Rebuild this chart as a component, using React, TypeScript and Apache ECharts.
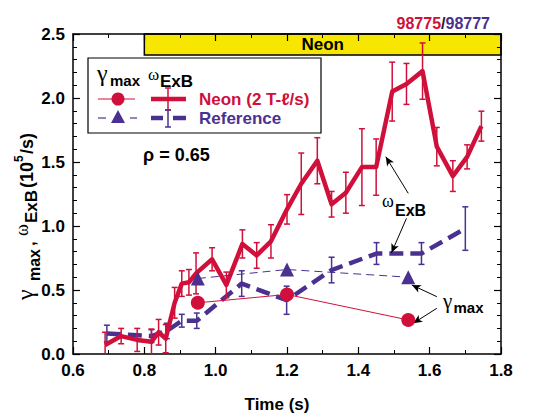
import React, { useEffect, useRef } from "react";
import * as echarts from "echarts";

// ω_ExB, Neon shot (98775)
const redT = [0.69, 0.735, 0.78, 0.82, 0.84, 0.86, 0.885, 0.905, 0.925, 0.945, 0.99, 1.03, 1.075, 1.115, 1.155, 1.2, 1.24, 1.285, 1.325, 1.365, 1.41, 1.45, 1.495, 1.535, 1.58, 1.62, 1.665, 1.705, 1.745];
const redW = [0.07, 0.14, 0.11, 0.095, 0.17, 0.12, 0.40, 0.55, 0.56, 0.63, 0.74, 0.54, 0.86, 0.77, 0.88, 1.13, 1.33, 1.51, 1.17, 1.26, 1.46, 1.46, 2.05, 2.11, 2.21, 1.62, 1.39, 1.54, 1.78];
const redErr = [0.1, 0.06, 0.09, 0.1, 0.1, 0.11, 0.12, 0.1, 0.1, 0.16, 0.09, 0.1, 0.11, 0.1, 0.13, 0.115, 0.24, 0.18, 0.1, 0.16, 0.3, 0.22, 0.23, 0.16, 0.22, 0.15, 0.12, 0.094, 0.117];

// ω_ExB, Reference shot (98777)
const refT = [0.695, 0.82, 0.863, 0.905, 0.947, 1.073, 1.199, 1.325, 1.451, 1.577, 1.70];
const refW = [0.16, 0.14, 0.18, 0.26, 0.26, 0.55, 0.42, 0.656, 0.785, 0.785, 0.98];
const refErr = [0.065, 0.05, 0.06, 0.05, 0.06, 0.1, 0.11, 0.1, 0.085, 0.085, 0.17];

// γ_max
const gammaT = [0.95, 1.2, 1.54];
const gammaNeon = [0.40, 0.465, 0.266];
const gammaRef = [0.59, 0.66, 0.60];

// Neon puff interval
const neonStart = 0.8;
const neonEnd = 1.8;
const neonBottom = 2.336;

// annotation arrows [from, to] in data coordinates
const arrowFrom = [[1.54, 1.255], [1.535, 1.06], [1.62, 0.448], [1.62, 0.357]];
const arrowTo = [[1.477, 1.541], [1.493, 0.791], [1.55, 0.539], [1.554, 0.24]];

const xTicks = { min: 0.6, max: 1.8, interval: 0.2 };
const yTicks = { min: 0, max: 2.5, interval: 0.5 };

const RED = "#d0103a";
const BLUE = "#4a3190";
const YELLOW = "#f7e600";
const SANS = "'Liberation Sans', Arial, Helvetica, sans-serif";
const SERIF = "'Liberation Serif', 'Times New Roman', serif";

function errBarSeries(name: string, t: number[], v: number[], e: number[], color: string, z: number) {
  return {
    type: "custom",
    name,
    z,
    clip: true,
    silent: true,
    data: t.map((x, i) => [x, v[i], e[i]]),
    renderItem: (params: any, api: any) => {
      const x = api.value(0), y = api.value(1), er = api.value(2);
      const top = api.coord([x, y + er]);
      const bot = api.coord([x, y - er]);
      const cw = 3;
      const st = { stroke: color, lineWidth: 1.5 };
      return {
        type: "group",
        children: [
          { type: "line", shape: { x1: top[0], y1: top[1], x2: bot[0], y2: bot[1] }, style: st },
          { type: "line", shape: { x1: top[0] - cw, y1: top[1], x2: top[0] + cw, y2: top[1] }, style: st },
          { type: "line", shape: { x1: bot[0] - cw, y1: bot[1], x2: bot[0] + cw, y2: bot[1] }, style: st },
        ],
      };
    },
  };
}

function txt(text: string, x: number, y: number, font: string, fill = "#000", align = "left", extra: any = {}) {
  return { type: "text", x, y, z: 20, style: { text, font, fill, align, verticalAlign: "middle", ...extra } };
}

export default function App() {
  const ref = useRef<HTMLDivElement>(null);
  useEffect(() => {
    if (!ref.current) return;
    const chart = echarts.init(ref.current, null, { renderer: "svg" });
    const axisCommon = (show: boolean) => ({
      axisLine: { show: true, onZero: false, lineStyle: { color: "#000", width: 1.5 } },
      axisTick: { show: true, inside: true, length: 7, lineStyle: { color: "#000", width: 1.2 } },
      minorTick: { show: true, length: 4, lineStyle: { color: "#000", width: 1 } },
      splitLine: { show: false },
      axisLabel: {
        show,
        color: "#000",
        fontFamily: SANS,
        fontWeight: "bold",
        fontSize: 17,
        margin: 8,
        formatter: (v: number) => v.toFixed(1),
      },
    });
    const option: any = {
      animation: false,
      grid: { left: 73, right: 49, top: 34, bottom: 60 },
      xAxis: [
        { type: "value", position: "bottom", ...xTicks, ...axisCommon(true), minorTick: { show: true, splitNumber: 2, length: 4, lineStyle: { color: "#000" } } },
        { type: "value", position: "top", ...xTicks, ...axisCommon(false), z: 10, minorTick: { show: true, splitNumber: 2, length: 4, lineStyle: { color: "#000" } } },
      ],
      yAxis: [
        { type: "value", position: "left", ...yTicks, ...axisCommon(true), minorTick: { show: true, splitNumber: 5, length: 4, lineStyle: { color: "#000" } } },
        { type: "value", position: "right", ...yTicks, ...axisCommon(false), z: 10, minorTick: { show: true, splitNumber: 5, length: 4, lineStyle: { color: "#000" } } },
      ],
      series: [
        {
          type: "line",
          name: "Reference ωExB",
          z: 2,
          data: refT.map((x, i) => [x, refW[i]]),
          symbol: "none",
          lineStyle: { color: BLUE, width: 4.5, type: [14, 7], cap: "butt" },
        },
        errBarSeries("Reference err", refT, refW, refErr, BLUE, 3),
        {
          type: "line",
          name: "Neon ωExB",
          z: 4,
          data: redT.map((x, i) => [x, redW[i]]),
          symbol: "none",
          lineStyle: { color: RED, width: 4.5, join: "round" },
          markArea: {
            silent: true,
            itemStyle: { color: YELLOW, borderColor: "#000", borderWidth: 1.5 },
            label: { show: true, position: "inside", color: "#000", fontFamily: SANS, fontWeight: "bold", fontSize: 17 },
            data: [[{ name: "Neon", coord: [neonStart, neonBottom] }, { coord: [neonEnd, yTicks.max] }]],
          },
        },
        errBarSeries("Neon err", redT, redW, redErr, RED, 5),
        {
          type: "line",
          name: "Neon γmax",
          z: 6,
          data: gammaT.map((x, i) => [x, gammaNeon[i]]),
          symbol: "circle",
          symbolSize: 14,
          itemStyle: { color: RED },
          lineStyle: { color: RED, width: 1 },
        },
        {
          type: "line",
          name: "Reference γmax",
          z: 6,
          data: gammaT.map((x, i) => [x, gammaRef[i]]),
          symbol: "triangle",
          symbolSize: 14,
          itemStyle: { color: BLUE },
          lineStyle: { color: BLUE, width: 1, type: [8, 5] },
          markLine: {
            silent: true,
            symbol: ["none", "arrow"],
            symbolSize: [6, 9],
            label: { show: false },
            lineStyle: { color: "#000", width: 1, type: "solid" },
            data: arrowFrom.map((f, i) => [{ coord: f }, { coord: arrowTo[i] }]),
          },
        },
      ],
      graphic: [
        // legend box
        { type: "rect", z: 15, shape: { x: 88, y: 58, width: 233, height: 75 }, style: { fill: "#fff", stroke: "#000", lineWidth: 1.2 } },
        txt("γ", 97, 73, `24px ${SERIF}`),
        txt("max", 110, 80, `bold 15px ${SANS}`),
        txt("ω", 148, 74, `17px ${SERIF}`),
        txt("ExB", 160, 81, `bold 17px ${SANS}`),
        { type: "line", z: 20, shape: { x1: 98, y1: 99, x2: 135, y2: 99 }, style: { stroke: RED, lineWidth: 1.2 } },
        { type: "circle", z: 21, shape: { cx: 118, cy: 99, r: 6.5 }, style: { fill: RED } },
        { type: "line", z: 20, shape: { x1: 151, y1: 99, x2: 186, y2: 99 }, style: { stroke: RED, lineWidth: 4.5 } },
        { type: "line", z: 20, shape: { x1: 168, y1: 88, x2: 168, y2: 110 }, style: { stroke: RED, lineWidth: 1.5 } },
        { type: "line", z: 20, shape: { x1: 165, y1: 88, x2: 171, y2: 88 }, style: { stroke: RED, lineWidth: 1.5 } },
        { type: "line", z: 20, shape: { x1: 165, y1: 110, x2: 171, y2: 110 }, style: { stroke: RED, lineWidth: 1.5 } },
        txt("Neon (2 T-ℓ/s)", 199, 99, `bold 17px ${SANS}`, RED),
        { type: "line", z: 20, shape: { x1: 98, y1: 118, x2: 106, y2: 118 }, style: { stroke: BLUE, lineWidth: 1.2 } },
        { type: "line", z: 20, shape: { x1: 130, y1: 118, x2: 137, y2: 118 }, style: { stroke: BLUE, lineWidth: 1.2 } },
        { type: "polygon", z: 21, shape: { points: [[118, 110], [125, 123], [111, 123]] }, style: { fill: BLUE } },
        { type: "line", z: 20, shape: { x1: 151, y1: 118, x2: 163, y2: 118 }, style: { stroke: BLUE, lineWidth: 4.5 } },
        { type: "line", z: 20, shape: { x1: 173, y1: 118, x2: 186, y2: 118 }, style: { stroke: BLUE, lineWidth: 4.5 } },
        { type: "line", z: 20, shape: { x1: 168, y1: 110, x2: 168, y2: 127 }, style: { stroke: BLUE, lineWidth: 1.5 } },
        { type: "line", z: 20, shape: { x1: 165, y1: 110, x2: 171, y2: 110 }, style: { stroke: BLUE, lineWidth: 1.5 } },
        { type: "line", z: 20, shape: { x1: 165, y1: 127, x2: 171, y2: 127 }, style: { stroke: BLUE, lineWidth: 1.5 } },
        txt("Reference", 199, 118, `bold 17px ${SANS}`, BLUE),
        // shot numbers
        {
          type: "text", x: 490, y: 23, z: 20,
          style: {
            text: "{r|98775}{k|/}{b|98777}", align: "right", verticalAlign: "middle",
            rich: {
              r: { fill: RED, font: `bold 16px ${SANS}` },
              k: { fill: "#222", font: `bold 16px ${SANS}` },
              b: { fill: BLUE, font: `bold 16px ${SANS}` },
            },
          },
        },
        txt("ρ = 0.65", 143, 155, `bold 18px ${SANS}`),
        // annotations
        txt("ω", 382, 201, `18px ${SERIF}`),
        txt("ExB", 395, 210, `bold 16px ${SANS}`),
        txt("γ", 443, 301, `21px ${SERIF}`),
        txt("max", 453.5, 307, `bold 15px ${SANS}`),
        // axis titles
        txt("Time (s)", 277, 404, `bold 17px ${SANS}`, "#000", "center"),
        {
          type: "group", x: 27, y: 300, rotation: Math.PI / 2, z: 20,
          children: [
            txt("γ", 0, -2, `24px ${SERIF}`),
            txt("max", 19, 7, `bold 16px ${SANS}`),
            txt(",", 54, 2, `bold 17px ${SANS}`),
            txt("ω", 64, -5, `18px ${SERIF}`),
            txt("ExB", 77, 4, `bold 17px ${SANS}`),
            txt("(10", 112, 0, `bold 18px ${SANS}`),
            txt("5", 138, -8, `bold 12px ${SANS}`),
            txt("/s)", 146, 0, `bold 18px ${SANS}`),
          ],
        },
      ],
    };
    chart.setOption(option);
    return () => chart.dispose();
  }, []);
  return <div ref={ref} style={{ position: "fixed", left: 0, top: 0, width: 550, height: 414, background: "#fff" }} />;
}
